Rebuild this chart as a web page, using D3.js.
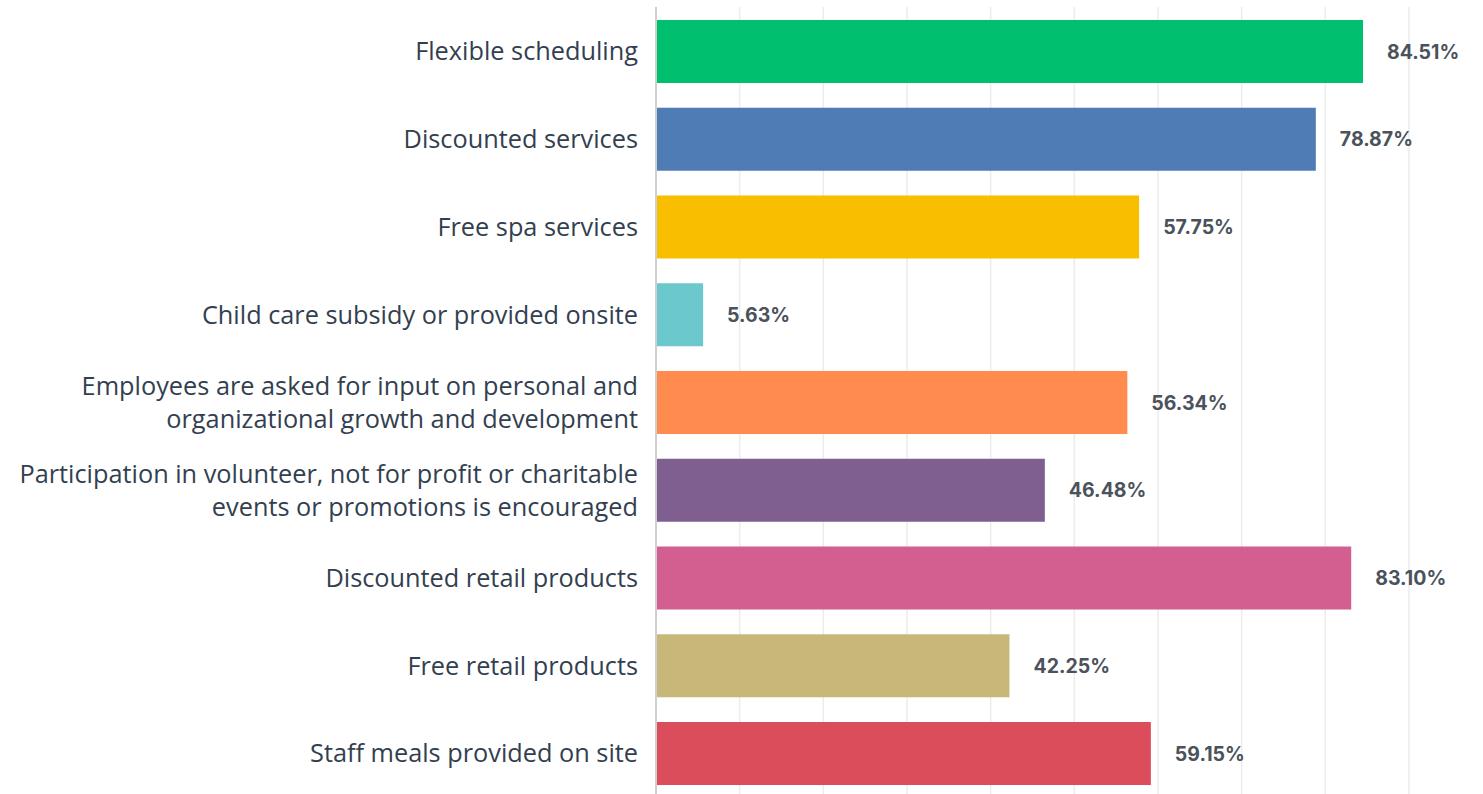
<!DOCTYPE html>
<html>
<head>
<meta charset="utf-8">
<script src="https://cdn.jsdelivr.net/npm/d3@7"></script>
<style>
  body { margin: 0; background: #fff; }
</style>
</head>
<body>
<div id="chart"></div>
<script>
  // data
  var categories = [
    ['Flexible scheduling'],
    ['Discounted services'],
    ['Free spa services'],
    ['Child care subsidy or provided onsite'],
    ['Employees are asked for input on personal and', 'organizational growth and development'],
    ['Participation in volunteer, not for profit or charitable', 'events or promotions is encouraged'],
    ['Discounted retail products'],
    ['Free retail products'],
    ['Staff meals provided on site']
  ];
  var values = [84.51, 78.87, 57.75, 5.63, 56.34, 46.48, 83.10, 42.25, 59.15];
  var colors = ['#00bf6f', '#507cb6', '#f9be00', '#6bc8cd', '#ff8b4f',
                '#7f5f90', '#d25f90', '#c7b879', '#dc4d5c'];
  var gridTicks = [10, 20, 30, 40, 50, 60, 70, 80, 90];

  var width = 1483, height = 794;
  var margin = { top: 20, left: 656, bottom: 9 };

  var svg = d3.select('#chart')
    .append('svg')
    .attr('width', width)
    .attr('height', height);

  var x = d3.scaleLinear()
    .domain([0, 100])
    .range([margin.left, margin.left + 836.6]);

  var y = d3.scaleBand()
    .domain(d3.range(values.length))
    .range([margin.top - 12.3, margin.top + 8 * 87.75 + 63 + 12.3])
    .paddingInner(0.282)
    .paddingOuter(0.14);

  // gridlines
  svg.append('g')
    .selectAll('line')
    .data(gridTicks)
    .enter().append('line')
    .attr('x1', function(d) { return x(d); })
    .attr('x2', function(d) { return x(d); })
    .attr('y1', 7)
    .attr('y2', height)
    .attr('stroke', '#ececec')
    .attr('stroke-width', 1.5);

  // bars
  svg.append('g')
    .selectAll('rect')
    .data(values)
    .enter().append('rect')
    .attr('x', x(0))
    .attr('y', function(d, i) { return y(i); })
    .attr('width', function(d) { return x(d) - x(0); })
    .attr('height', y.bandwidth())
    .attr('fill', function(d, i) { return colors[i]; });

  // axis line
  svg.append('line')
    .attr('x1', x(0))
    .attr('x2', x(0))
    .attr('y1', 7)
    .attr('y2', height)
    .attr('stroke', '#cfcfcf')
    .attr('stroke-width', 2);

  // value labels
  svg.append('g')
    .selectAll('text')
    .data(values)
    .enter().append('text')
    .attr('x', function(d) { return x(d) + 24; })
    .attr('y', function(d, i) { return y(i) + y.bandwidth() / 2; })
    .attr('dy', '0.36em')
    .style('font-family', 'Inter, Roboto, sans-serif')
    .style('font-weight', 'bold')
    .style('font-size', '19.5px')
    .style('fill', '#4b525c')
    .text(function(d) { return d.toFixed(2) + '%'; });

  // category labels
  var lineH = 33;
  var labels = svg.append('g')
    .selectAll('text')
    .data(categories)
    .enter().append('text')
    .attr('text-anchor', 'end')
    .style('font-family', '"Open Sans", sans-serif')
    .style('font-size', '25.3px')
    .style('fill', '#333f4f');

  labels.each(function(lines, i) {
    var cy = y(i) + y.bandwidth() / 2;
    var t = d3.select(this);
    lines.forEach(function(line, j) {
      t.append('tspan')
        .attr('x', 638)
        .attr('y', cy + (j - (lines.length - 1) / 2) * lineH)
        .attr('dy', '0.35em')
        .text(line);
    });
  });
</script>
</body>
</html>
